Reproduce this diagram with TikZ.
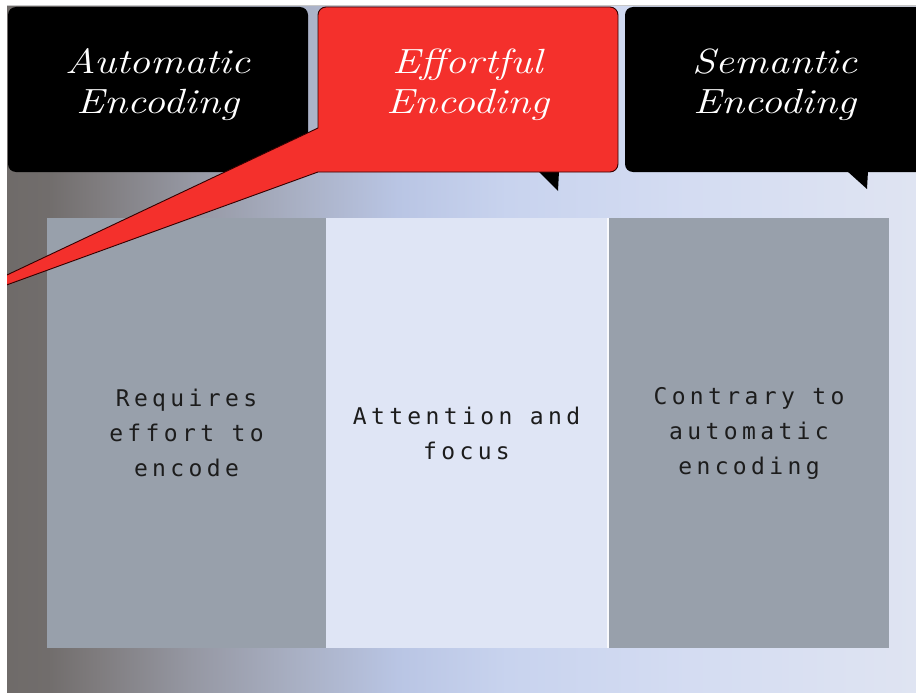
\documentclass[tikz,border=0pt]{standalone}
\usepackage{fontspec}
\newfontfamily\headfont{Latin Modern Roman}[FakeStretch=1.2]
\newfontfamily\bodyfont{DejaVu Sans Mono}[LetterSpace=19]
\definecolor{bgA}{HTML}{6F6B69}
\definecolor{bgB}{HTML}{716D6C}
\definecolor{bgC}{HTML}{7F7C7E}
\definecolor{bgD}{HTML}{9597A2}
\definecolor{bgE}{HTML}{A9B0C4}
\definecolor{bgF}{HTML}{B9C5E4}
\definecolor{bgG}{HTML}{C8D3EE}
\definecolor{bgH}{HTML}{D4DCF2}
\definecolor{bgI}{HTML}{DFE4F2}
\definecolor{panelgray}{HTML}{98A0AB}
\definecolor{panellight}{HTML}{DFE5F5}
\definecolor{calloutred}{HTML}{F4302C}
\definecolor{bodytext}{HTML}{1C1C1C}
\pgfdeclarehorizontalshading{bgshade}{100bp}{color(0bp)=(bgA); color(25bp)=(bgA); color(27.25bp)=(bgB); color(30bp)=(bgC); color(35bp)=(bgD); color(41bp)=(bgE); color(46.5bp)=(bgF); color(52.5bp)=(bgG); color(62.5bp)=(bgH); color(75bp)=(bgI); color(100bp)=(bgI)}
\newcommand\wsp{\hspace{17.5pt}}
\tikzset{
  headtext/.style={text=white, align=center, font=\headfont\itshape\fontsize{35}{40}\selectfont, inner sep=0pt},
  blackbox/.style={fill=black, rounded corners=8pt, minimum width=300pt, minimum height=165pt, inner sep=0pt},
  panelbox/.style={minimum height=430pt, inner sep=0pt, text=bodytext, align=center, text width=270pt, font=\bodyfont\fontsize{23}{35}\selectfont},
  tailshape/.style={fill=black}
}
\begin{document}
\begin{tikzpicture}[x=1pt,y=-1pt]
\useasboundingbox (0,0) rectangle (916,693);
\fill[white] (0,0) rectangle (916,693);
\shade[shading=bgshade] (7,6) rectangle (916,693);
\draw[black!22, line width=1pt] (7,5.5) -- (916,5.5);
\begin{scope}
\clip (7,6) rectangle (916,693);
% panels
\node[panelbox, fill=panelgray, minimum width=279pt] (p1) at (186.5,433) {Requires\\effort\wsp to\\encode};
\node[panelbox, fill=panellight, minimum width=281pt] (p2) at (466.5,433) {Attention\wsp and\\focus};
\fill[white!80!panellight] (607,218) rectangle (609,648);
\node[panelbox, fill=panelgray, minimum width=280pt] (p3) at (749,433) {Contrary\wsp to\\automatic\\encoding};
% black boxes
\node[blackbox] (b1) at (158,89.5) {};
\node[blackbox] (b3) at (775,89.5) {};
\fill[tailshape] (847,171) -- (868,171) -- (867,189) -- cycle;
\fill[tailshape] (538,171) -- (559,171) -- (558,191) -- cycle;
% red callout
\filldraw[fill=calloutred, draw=black!80!red, line width=0.9pt]
  (-10,283) -- (318,128) [rounded corners=8pt] -- (318,7) -- (618,7) -- (618,172) [sharp corners] -- (318,172) -- (-10,291) -- cycle;
\end{scope}
\node[headtext] (t1) at (158,85) {Automatic\\Encoding};
\node[headtext] (t2) at (468,85) {Effortful\\Encoding};
\node[headtext] (t3) at (775,85) {Semantic\\Encoding};
\end{tikzpicture}
\end{document}
